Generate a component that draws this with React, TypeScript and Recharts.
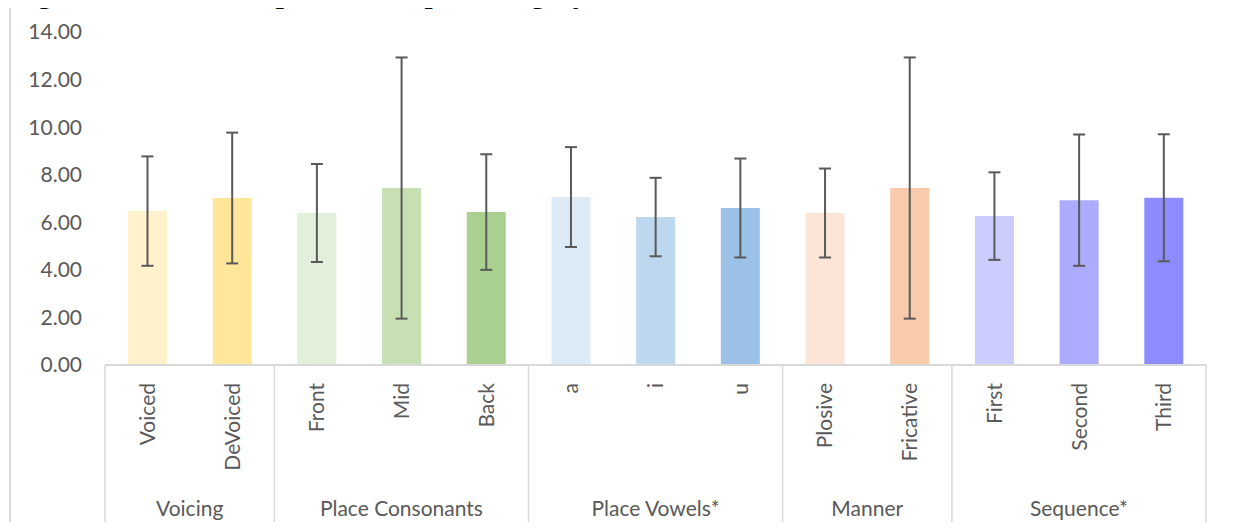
import React from 'react';
import { BarChart, Bar, XAxis, YAxis, ErrorBar, Cell } from 'recharts';

const TITLE = 'Figure 3. Overall Response Time per Category';

const categories = ['Voiced', 'DeVoiced', 'Front', 'Mid', 'Back', 'a', 'i', 'u', 'Plosive', 'Fricative', 'First', 'Second', 'Third'];
const means = [6.47, 7.02, 6.39, 7.44, 6.43, 7.06, 6.22, 6.6, 6.39, 7.44, 6.26, 6.93, 7.03];
const errors = [2.3, 2.75, 2.06, 5.49, 2.43, 2.1, 1.65, 2.08, 1.87, 5.49, 1.84, 2.76, 2.67];
const groupNames = ['Voicing', 'Place Consonants', 'Place Vowels*', 'Manner', 'Sequence*'];
const groupSizes = [2, 3, 3, 2, 3];
const barColors = ['#FFF2CC', '#FFE699', '#E2EFDA', '#C6E0B4', '#A9D08E', '#DDEBF7', '#BDD7EE', '#9BC2E6', '#FCE4D6', '#F8CBAD', '#CCCCFF', '#ABABFF', '#8C8CFF'];
const yTicks = [0, 2, 4, 6, 8, 10, 12, 14];

const data = categories.map((name, i) => ({ name, mean: means[i], err: errors[i] }));

const CHART_W = 1239;
const CHART_H = 522;
const MARGIN = { top: 32, right: 33, bottom: 7, left: 9 };
const Y_AXIS_W = 96;
const PLOT_W = CHART_W - MARGIN.left - MARGIN.right - Y_AXIS_W;
const BAND = PLOT_W / categories.length;
const FONT = 'Lato, "Open Sans", sans-serif';
const TEXT_COLOR = '#595959';
const LINE_COLOR = '#D9D9D9';

const groupStarts: number[] = [];
{
  let s = 0;
  groupSizes.forEach((n) => {
    groupStarts.push(s);
    s += n;
  });
}

function CategoryTick(props: any) {
  const { x, y, payload } = props;
  const i: number = payload && payload.index != null ? payload.index : props.index;
  const g = groupStarts.indexOf(i);
  const bottom = CHART_H - y;
  return (
    <g>
      <text
        x={x}
        y={y + 18}
        transform={`rotate(-90, ${x}, ${y + 18})`}
        textAnchor="end"
        dy="0.36em"
        fill={TEXT_COLOR}
        fontFamily={FONT}
        fontSize={21}
      >
        {payload.value}
      </text>
      {g >= 0 && (
        <>
          <line x1={x - BAND / 2} x2={x - BAND / 2} y1={y} y2={y + bottom} stroke={LINE_COLOR} strokeWidth={1.5} />
          <text
            x={x + ((groupSizes[g] - 1) * BAND) / 2}
            y={y + 143}
            textAnchor="middle"
            dy="0.36em"
            fill={TEXT_COLOR}
            fontFamily={FONT}
            fontSize={21}
          >
            {groupNames[g]}
          </text>
        </>
      )}
      {i === categories.length - 1 && (
        <line x1={x + BAND / 2} x2={x + BAND / 2} y1={y} y2={y + bottom} stroke={LINE_COLOR} strokeWidth={1.5} />
      )}
    </g>
  );
}

export default function App() {
  return (
    <div
      style={{
        position: 'relative',
        width: CHART_W,
        height: CHART_H,
        marginLeft: -8,
        marginTop: -8,
        overflow: 'hidden',
        background: '#fff',
      }}
    >
      <div
        style={{
          position: 'absolute',
          left: 12,
          top: -21,
          fontFamily: '"Liberation Serif", serif',
          fontWeight: 'bold',
          fontSize: 29,
          lineHeight: '29px',
          whiteSpace: 'nowrap',
          color: '#000',
        }}
      >
        {TITLE}
      </div>
      <div
        style={{
          position: 'absolute',
          left: 9,
          top: 5,
          width: 1227,
          height: 600,
          border: `2px solid ${LINE_COLOR}`,
          boxSizing: 'border-box',
        }}
      />
      <div style={{ position: 'absolute', left: 0, top: 0 }}>
        <BarChart width={CHART_W} height={CHART_H} data={data} margin={MARGIN}>
          <YAxis
            width={Y_AXIS_W}
            domain={[0, 14]}
            ticks={yTicks}
            interval={0}
            axisLine={false}
            tickLine={false}
            tickMargin={17}
            tickFormatter={(v: number) => v.toFixed(2)}
            tick={{ fill: TEXT_COLOR, fontFamily: FONT, fontSize: 21 }}
          />
          <XAxis
            dataKey="name"
            height={150}
            interval={0}
            tickLine={false}
            tickSize={0}
            tickMargin={0}
            axisLine={{ stroke: LINE_COLOR, strokeWidth: 2 }}
            tick={(p: any) => <CategoryTick {...p} />}
          />
          <Bar dataKey="mean" barSize={39} isAnimationActive={false}>
            {data.map((d, i) => (
              <Cell key={d.name} fill={barColors[i]} />
            ))}
            <ErrorBar dataKey="err" direction="y" width={6} stroke="#595959" strokeWidth={2} />
          </Bar>
        </BarChart>
      </div>
    </div>
  );
}
